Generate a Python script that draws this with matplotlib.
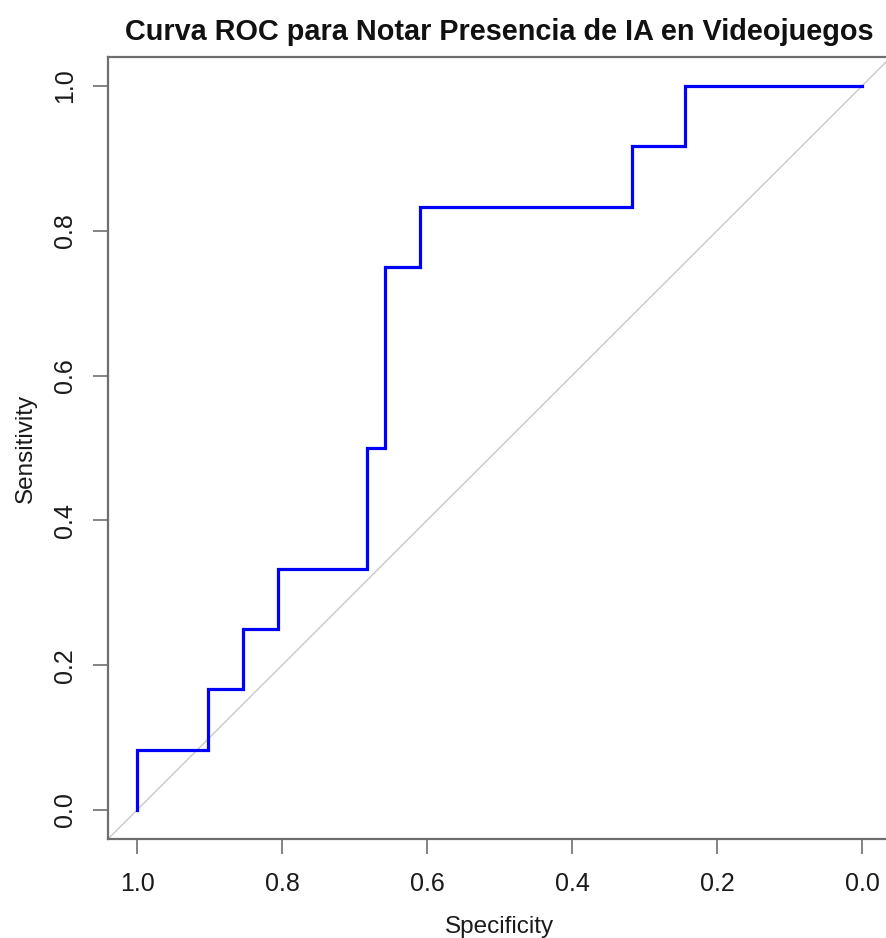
import matplotlib
matplotlib.use("Agg")
import matplotlib.pyplot as plt

plt.rcParams['font.family'] = ['Liberation Sans', 'DejaVu Sans']

# ROC curve data (specificity, sensitivity)
specificity = [1.0, 1.0, 0.9024, 0.9024, 0.8537, 0.8537, 0.8049, 0.8049,
               0.6829, 0.6829, 0.6585, 0.6585, 0.6098, 0.6098, 0.3171, 0.3171,
               0.2439, 0.2439, 0.0]
sensitivity = [0.0, 0.0833, 0.0833, 0.1667, 0.1667, 0.25, 0.25, 0.3333,
               0.3333, 0.5, 0.5, 0.75, 0.75, 0.8333, 0.8333, 0.9167,
               0.9167, 1.0, 1.0]
ticks = [1.0, 0.8, 0.6, 0.4, 0.2, 0.0]
tick_labels = ["1.0", "0.8", "0.6", "0.4", "0.2", "0.0"]
y_ticks = [0.0, 0.2, 0.4, 0.6, 0.8, 1.0]
y_tick_labels = ["0.0", "0.2", "0.4", "0.6", "0.8", "1.0"]
title = "Curva ROC para Notar Presencia de IA en Videojuegos"

W, H = 887, 938
fig = plt.figure(figsize=(W / 100, H / 100), dpi=100)
left, right, top, bottom = 108, 891, 57, 839
ax = fig.add_axes([left / W, 1 - bottom / H, (right - left) / W, (bottom - top) / H])

ax.set_xlim(1.04, -0.04)
ax.set_ylim(-0.04, 1.04)

ax.plot([1.04, -0.04], [-0.04, 1.04], color='#c8c8c8', lw=1.0, zorder=1)
ax.plot(specificity, sensitivity, color='#0000ff', lw=2.3, zorder=2,
        solid_joinstyle='miter')

ax.set_xticks(ticks)
ax.set_xticklabels(tick_labels)
ax.set_yticks(y_ticks)
ax.set_yticklabels(y_tick_labels, rotation=90, va='center')

for s in ax.spines.values():
    s.set_color('#6e6e6e')
    s.set_linewidth(1.6)

ax.tick_params(axis='x', length=11, width=1.2, color='#6e6e6e',
               labelsize=18, labelcolor='#1a1a1a', pad=13)
ax.tick_params(axis='y', length=11, width=1.2, color='#6e6e6e',
               labelsize=18, labelcolor='#1a1a1a', pad=11)

ax.set_xlabel("Specificity", fontsize=17.5, color='#1a1a1a', labelpad=14)
ax.set_ylabel("Sensitivity", fontsize=17.5, color='#1a1a1a', labelpad=12)
ax.set_title(title, fontsize=20.8, fontweight='bold', color='#111111', pad=12.5)

fig.savefig("out.png", dpi=100)
